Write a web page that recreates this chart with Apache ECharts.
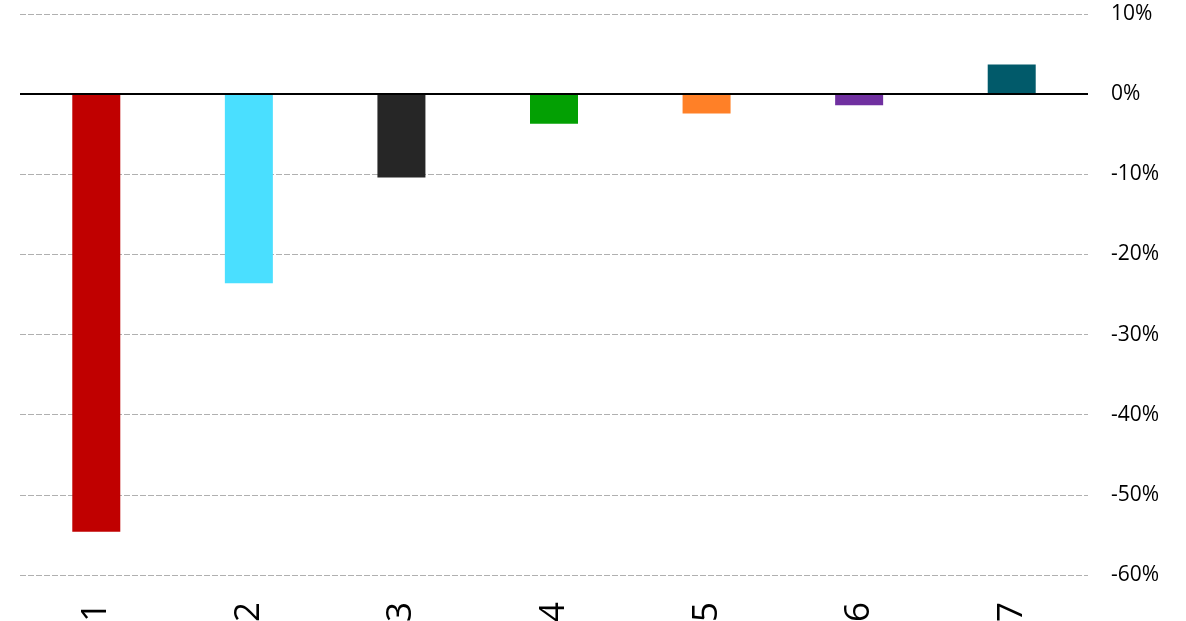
<!DOCTYPE html>
<html>
<head>
<meta charset="utf-8">
<script src="https://cdn.jsdelivr.net/npm/echarts@6/dist/echarts.min.js"></script>
<style>
  html, body { margin: 0; padding: 0; background: #fff; }
  #chart { width: 1186px; height: 621px; }
</style>
</head>
<body>
<div id="chart"></div>
<script>
// 数据
var categories = ['1', '2', '3', '4', '5', '6', '7'];
var values = [-54.6, -23.6, -10.4, -3.7, -2.4, -1.4, 3.7];
var barColors = ['#c00000', '#4adfff', '#262626', '#03a003', '#ff8027', '#7030a0', '#015a6a'];

var myChart = echarts.init(document.getElementById('chart'));

var option = {
    animation: false,
    grid: {
        left: 20,
        right: 98,
        top: 14,
        bottom: 46,
        outerBoundsMode: 'none'
    },
    xAxis: {
        type: 'category',
        data: categories,
        axisLine: { show: false },
        axisTick: { show: false },
        axisLabel: {
            rotate: 90,
            margin: 27,
            color: '#000',
            fontSize: 35,
            fontFamily: 'Open Sans'
        }
    },
    yAxis: {
        type: 'value',
        position: 'right',
        min: -60,
        max: 10,
        interval: 10,
        axisLine: { show: false },
        axisTick: { show: false },
        axisLabel: {
            margin: 23,
            color: '#000',
            fontSize: 21,
            fontFamily: 'Open Sans',
            padding: [7, 0, 0, 0],
            formatter: '{value}%'
        },
        splitLine: {
            lineStyle: {
                color: '#b0b0b0',
                type: [6, 2],
                width: 1
            }
        }
    },
    series: [
        {
            type: 'bar',
            barWidth: 48,
            data: values.map(function (v, i) {
                return {
                    value: v,
                    itemStyle: { color: barColors[i] }
                };
            }),
            markLine: {
                silent: true,
                symbol: 'none',
                label: { show: false },
                lineStyle: { color: '#000', type: 'solid', width: 2 },
                data: [{ yAxis: 0 }]
            }
        }
    ]
};
myChart.setOption(option);
</script>
</body>
</html>
